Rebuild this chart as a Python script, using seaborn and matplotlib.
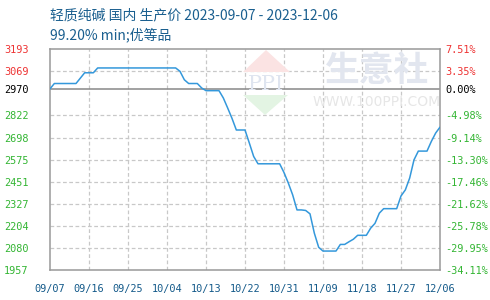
import matplotlib
matplotlib.use("Agg")
import matplotlib.pyplot as plt
from matplotlib.patches import Polygon
import seaborn as sns
import pandas as pd

# ---- data ----
start_date = "2023-09-07"
prices = [
    2970, 3000, 3000, 3000, 3000, 3000, 3000, 3030, 3060, 3060,   # d0-9
    3060, 3087, 3087, 3087, 3087, 3087, 3087, 3087, 3087, 3087,   # d10-19
    3087, 3087, 3087, 3087, 3087, 3087, 3087, 3087, 3087, 3087,   # d20-29
    3068, 3021, 3000, 3000, 3000, 2975, 2960, 2960, 2960, 2960,   # d30-39
    2919, 2863, 2805, 2740, 2740, 2740, 2667, 2592, 2551, 2551,   # d40-49
    2551, 2551, 2551, 2551, 2502, 2443, 2377, 2293, 2293, 2290,   # d50-59
    2271, 2163, 2084, 2063, 2063, 2063, 2063, 2100, 2100, 2115,   # d60-69
    2129, 2151, 2151, 2151, 2191, 2218, 2275, 2300, 2300, 2300,   # d70-79
    2300, 2371, 2405, 2471, 2573, 2622, 2622, 2622, 2676, 2723,   # d80-89
    2756,                                                         # d90
]
base_price = 2970
ytick_values = [1957, 2080, 2204, 2327, 2451, 2575, 2698, 2822, 2970, 3069, 3193]
pct_labels = ["-34.11%", "-29.95%", "-25.78%", "-21.62%", "-17.46%", "-13.30%",
              "-9.14%", "-4.98%", "0.00%", "3.35%", "7.51%"]
xtick_labels = ["09/07", "09/16", "09/25", "10/04", "10/13", "10/22",
                "10/31", "11/09", "11/18", "11/27", "12/06"]
title_line1 = "轻质纯碱 国内 生产价 2023-09-07 - 2023-12-06"
title_line2 = "99.20% min;优等品"

dates = pd.date_range(start_date, periods=len(prices), freq="D")
df = pd.DataFrame({"date": dates, "price": prices})

sns.set_theme(style="white")
plt.rcParams["font.family"] = ["Noto Sans CJK SC", "DejaVu Sans"]

W, H = 490, 300
fig = plt.figure(figsize=(W / 100, H / 100), dpi=100)
L, R, T, B = 50, 440, 49, 270
ax = fig.add_axes([L / W, 1 - B / H, (R - L) / W, (B - T) / H])
ax.set_facecolor("none")

red, green, blk = "#ee3333", "#33b533", "#000000"
blue_txt = "#1a5f8f"

# watermark
def px(x, y):
    return (x / W, 1 - y / H)
fig.patches.append(Polygon([px(243, 72), px(290, 72), px(266, 50)], closed=True,
                           transform=fig.transFigure, facecolor="#fbe3e3", edgecolor="none", zorder=0))
fig.patches.append(Polygon([px(243, 95), px(288, 95), px(265, 115)], closed=True,
                           transform=fig.transFigure, facecolor="#e3f4e3", edgecolor="none", zorder=0))
fig.text(*px(266, 84), "PPI", fontsize=15, color="#dfe5f0", ha="center", va="center",
         family="DejaVu Serif", zorder=0)
fig.text(*px(377, 71), "生意社", fontsize=25, color="#e2e6ef", ha="center", va="center",
         fontweight="bold", zorder=0)
fig.text(*px(377, 102), "WWW.100PPI.COM", fontsize=10, color="#e6e6e6", ha="center",
         va="center", family="DejaVu Sans", zorder=0)

sns.lineplot(data=df, x="date", y="price", ax=ax, color="#3498db", linewidth=1.1, zorder=3)

ax.set_ylim(ytick_values[0], ytick_values[-1])
ax.set_xlim(dates[0], dates[-1])

# grid
for v in ytick_values:
    if v == base_price:
        ax.axhline(v, color="#888888", linewidth=1.1, zorder=2)
    elif v not in (ytick_values[0], ytick_values[-1]):
        ax.axhline(v, color="#c8c8c8", linewidth=0.9, linestyle=(0, (3, 2)), zorder=1)
xticks = [dates[0] + pd.Timedelta(days=9 * i) for i in range(len(xtick_labels))]
for d in xticks[1:-1]:
    ax.axvline(d, color="#c8c8c8", linewidth=0.9, linestyle=(0, (3, 2)), zorder=1)

for s in ax.spines.values():
    s.set_color("#999999")
    s.set_linewidth(1.1)

mono = "DejaVu Sans Mono"
ax.set_yticks(ytick_values)
ax.set_yticklabels([str(v) for v in ytick_values], family=mono, fontsize=7.4)
for lab, v in zip(ax.get_yticklabels(), ytick_values):
    lab.set_color(red if v > base_price else (blk if v == base_price else green))
ax.tick_params(axis="y", length=0, pad=15.5)

ax.set_xticks(xticks)
ax.set_xticklabels(xtick_labels, family=mono, fontsize=7.4, color="#145a8a")
ax.tick_params(axis="x", length=0, pad=10)
ax.set_xlabel("")
ax.set_ylabel("")

ax2 = ax.twinx()
ax2.set_position(ax.get_position())
ax2.set_ylim(ax.get_ylim())
ax2.set_yticks(ytick_values)
ax2.set_yticklabels(pct_labels, family=mono, fontsize=7.4)
for lab, v in zip(ax2.get_yticklabels(), ytick_values):
    lab.set_color(red if v > base_price else (blk if v == base_price else green))
ax2.tick_params(axis="y", length=0, pad=4)
for s in ax2.spines.values():
    s.set_visible(False)

fig.text(50 / W, 1 - 15 / H, title_line1, fontsize=10, color=blue_txt, va="center", ha="left")
fig.text(50 / W, 1 - 35 / H, title_line2, fontsize=10, color=blue_txt, va="center", ha="left")

fig.savefig("out.png", dpi=100)
